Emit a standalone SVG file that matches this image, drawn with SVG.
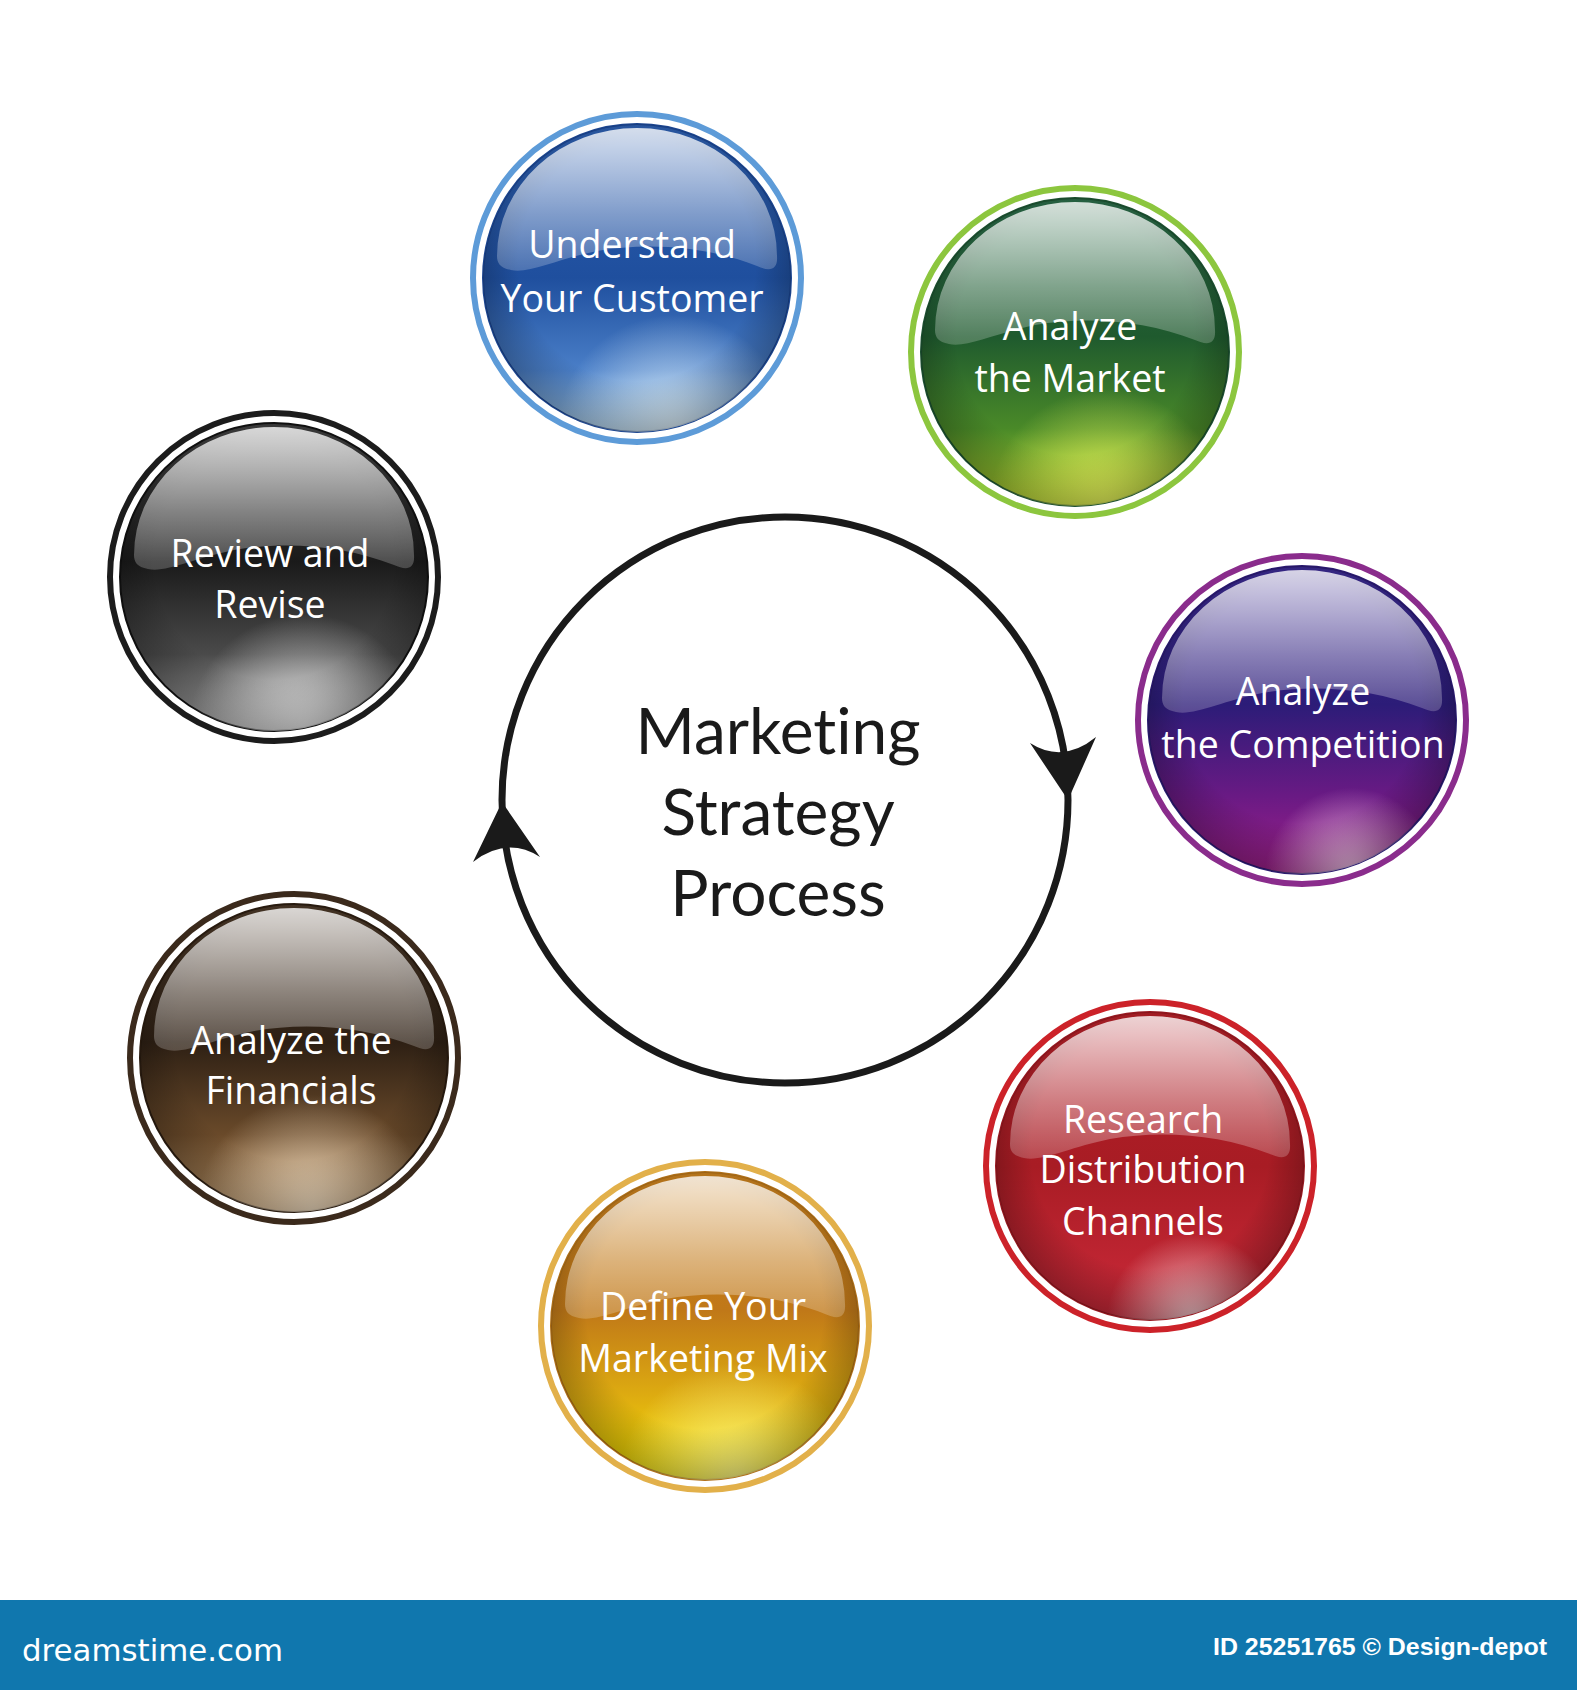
<svg xmlns="http://www.w3.org/2000/svg" width="1577" height="1690" viewBox="0 0 1577 1690">
<style>
.ring{fill:none;stroke-width:6}
.lbl{font-family:"Open Sans","Noto Sans",sans-serif;font-size:37.5px;fill:#ffffff;text-anchor:middle}
.ctr{font-family:Lato,"Open Sans",sans-serif;font-size:64px;fill:#1a1a1a;text-anchor:middle;font-variant-ligatures:none;font-feature-settings:"liga" 0}
.conn{fill:none;stroke:#1a1a1a;stroke-width:7}
.head{fill:#1a1a1a}
</style>
<defs>
<linearGradient id="hl" x1="0" y1="0" x2="0" y2="1">
<stop offset="0" stop-color="#fff" stop-opacity="0.8"/>
<stop offset="0.6" stop-color="#fff" stop-opacity="0.42"/>
<stop offset="1" stop-color="#fff" stop-opacity="0.2"/>
</linearGradient>
<radialGradient id="edge" cx="0.5" cy="0.45" r="0.55">
<stop offset="0.7" stop-color="#000" stop-opacity="0"/>
<stop offset="1" stop-color="#000" stop-opacity="0.3"/>
</radialGradient>
<path id="hlp" d="M -140,-22 A 140 128 0 0 1 140,-22 C 141,-8 133,-6 120,-12 C 70,-32 10,-36 -40,-27 C -80,-19 -108,-4 -126,-8 C -137,-10 -140,-15 -140,-22 Z"/>
<linearGradient id="b-blue" x1="0" y1="0" x2="0" y2="1"><stop offset="0" stop-color="#2d5fb0"/><stop offset="0.5" stop-color="#1f4f9e"/><stop offset="0.8" stop-color="#4a7fc8"/><stop offset="1" stop-color="#a8d0f0"/></linearGradient>
<radialGradient id="g-blue" cx="0.62" cy="1" r="0.38"><stop offset="0" stop-color="#e4f4fc" stop-opacity="0.9"/><stop offset="1" stop-color="#e4f4fc" stop-opacity="0"/></radialGradient>
<linearGradient id="b-green" x1="0" y1="0" x2="0" y2="1"><stop offset="0" stop-color="#2a6a48"/><stop offset="0.45" stop-color="#1f5a2e"/><stop offset="0.75" stop-color="#4a8a28"/><stop offset="1" stop-color="#b8d830"/></linearGradient>
<radialGradient id="g-green" cx="0.6" cy="1" r="0.38"><stop offset="0" stop-color="#eefa60" stop-opacity="0.9"/><stop offset="1" stop-color="#eefa60" stop-opacity="0"/></radialGradient>
<linearGradient id="b-purple" x1="0" y1="0" x2="0" y2="1"><stop offset="0" stop-color="#3a2a90"/><stop offset="0.45" stop-color="#2c1c78"/><stop offset="0.75" stop-color="#6a1a84"/><stop offset="1" stop-color="#a0208a"/></linearGradient>
<radialGradient id="g-purple" cx="0.66" cy="1" r="0.28"><stop offset="0" stop-color="#f4d0ec" stop-opacity="0.9"/><stop offset="1" stop-color="#f4d0ec" stop-opacity="0"/></radialGradient>
<linearGradient id="b-red" x1="0" y1="0" x2="0" y2="1"><stop offset="0" stop-color="#b42028"/><stop offset="0.5" stop-color="#a81c24"/><stop offset="1" stop-color="#cc2a3a"/></linearGradient>
<radialGradient id="g-red" cx="0.64" cy="1" r="0.28"><stop offset="0" stop-color="#f8d8dc" stop-opacity="0.9"/><stop offset="1" stop-color="#f8d8dc" stop-opacity="0"/></radialGradient>
<linearGradient id="b-yellow" x1="0" y1="0" x2="0" y2="1"><stop offset="0" stop-color="#c8801e"/><stop offset="0.45" stop-color="#c07818"/><stop offset="0.75" stop-color="#e0b010"/><stop offset="1" stop-color="#f8e800"/></linearGradient>
<radialGradient id="g-yellow" cx="0.6" cy="1" r="0.38"><stop offset="0" stop-color="#fffa90" stop-opacity="0.9"/><stop offset="1" stop-color="#fffa90" stop-opacity="0"/></radialGradient>
<linearGradient id="b-brown" x1="0" y1="0" x2="0" y2="1"><stop offset="0" stop-color="#4a3828"/><stop offset="0.45" stop-color="#2e2014"/><stop offset="0.75" stop-color="#6a4a2a"/><stop offset="1" stop-color="#c8a070"/></linearGradient>
<radialGradient id="g-brown" cx="0.56" cy="1" r="0.38"><stop offset="0" stop-color="#f4e2c8" stop-opacity="0.9"/><stop offset="1" stop-color="#f4e2c8" stop-opacity="0"/></radialGradient>
<linearGradient id="b-black" x1="0" y1="0" x2="0" y2="1"><stop offset="0" stop-color="#404040"/><stop offset="0.45" stop-color="#1a1a1a"/><stop offset="0.75" stop-color="#4a4a4a"/><stop offset="1" stop-color="#b8b8b8"/></linearGradient>
<radialGradient id="g-black" cx="0.6" cy="1" r="0.38"><stop offset="0" stop-color="#ececec" stop-opacity="0.9"/><stop offset="1" stop-color="#ececec" stop-opacity="0"/></radialGradient>
</defs>
<rect x="0" y="0" width="1577" height="1690" fill="#ffffff"/>

<g id="connectors">
<circle class="conn" cx="785" cy="800" r="283"/>
<path class="head" d="M 1068,800 L 1030,743 Q 1063,764 1096,737 Z"/>
<path class="head" d="M 502,802 L 540,857 Q 507,836 473,862 Z"/>
</g>

<g id="center">
<text class="ctr" x="778" y="754">Marketing</text>
<text class="ctr" x="778" y="835">Strategy</text>
<text class="ctr" x="778" y="916">Process</text>
</g>

<g id="understand" transform="translate(637,278)">
<circle class="ring" r="164" stroke="#5d9bd8"/>
<circle r="154" fill="url(#b-blue)" stroke="#1b4590" stroke-width="2"/>
<circle r="154" fill="url(#g-blue)"/>
<circle r="154" fill="url(#edge)"/>
<use href="#hlp" fill="url(#hl)"/>
<text class="lbl" x="-5" y="-20">Understand</text>
<text class="lbl" x="-5" y="34">Your Customer</text>
</g>

<g id="market" transform="translate(1075,352)">
<circle class="ring" r="164" stroke="#8cc63e"/>
<circle r="154" fill="url(#b-green)" stroke="#1c5030" stroke-width="2"/>
<circle r="154" fill="url(#g-green)"/>
<circle r="154" fill="url(#edge)"/>
<use href="#hlp" fill="url(#hl)"/>
<text class="lbl" x="-5" y="-12">Analyze</text>
<text class="lbl" x="-5" y="40">the Market</text>
</g>

<g id="competition" transform="translate(1302,720)">
<circle class="ring" r="164" stroke="#8a2c8c"/>
<circle r="154" fill="url(#b-purple)" stroke="#2a1a70" stroke-width="2"/>
<circle r="154" fill="url(#g-purple)"/>
<circle r="154" fill="url(#edge)"/>
<use href="#hlp" fill="url(#hl)"/>
<text class="lbl" x="1" y="-15">Analyze</text>
<text class="lbl" x="1" y="38">the Competition</text>
</g>

<g id="distribution" transform="translate(1150,1166)">
<circle class="ring" r="164" stroke="#cc2229"/>
<circle r="154" fill="url(#b-red)" stroke="#981820" stroke-width="2"/>
<circle r="154" fill="url(#g-red)"/>
<circle r="154" fill="url(#edge)"/>
<use href="#hlp" fill="url(#hl)"/>
<text class="lbl" x="-7" y="-33">Research</text>
<text class="lbl" x="-7" y="17">Distribution</text>
<text class="lbl" x="-7" y="69">Channels</text>
</g>

<g id="mix" transform="translate(705,1326)">
<circle class="ring" r="164" stroke="#e2b04a"/>
<circle r="154" fill="url(#b-yellow)" stroke="#b07018" stroke-width="2"/>
<circle r="154" fill="url(#g-yellow)"/>
<circle r="154" fill="url(#edge)"/>
<use href="#hlp" fill="url(#hl)"/>
<text class="lbl" x="-2" y="-6">Define Your</text>
<text class="lbl" x="-2" y="46">Marketing Mix</text>
</g>

<g id="financials" transform="translate(294,1058)">
<circle class="ring" r="164" stroke="#3b2a1c"/>
<circle r="154" fill="url(#b-brown)" stroke="#2a1c10" stroke-width="2"/>
<circle r="154" fill="url(#g-brown)"/>
<circle r="154" fill="url(#edge)"/>
<use href="#hlp" fill="url(#hl)"/>
<text class="lbl" x="-3" y="-4">Analyze the</text>
<text class="lbl" x="-3" y="46">Financials</text>
</g>

<g id="review" transform="translate(274,577)">
<circle class="ring" r="164" stroke="#1c1c1c"/>
<circle r="154" fill="url(#b-black)" stroke="#111" stroke-width="2"/>
<circle r="154" fill="url(#g-black)"/>
<circle r="154" fill="url(#edge)"/>
<use href="#hlp" fill="url(#hl)"/>
<text class="lbl" x="-4" y="-10">Review and</text>
<text class="lbl" x="-4" y="41">Revise</text>
</g>

<g id="footer">
<rect x="0" y="1600" width="1577" height="90" fill="#1077ae"/>
<text x="22" y="1661" font-family="'DejaVu Sans',sans-serif" font-size="30" fill="#ffffff" textLength="261" lengthAdjust="spacingAndGlyphs">dreamstime.com</text>
<text x="1547" y="1655" font-family="'Liberation Sans',Arial,sans-serif" font-weight="bold" font-size="24" fill="#ffffff" text-anchor="end" textLength="334" lengthAdjust="spacingAndGlyphs">ID 25251765 © Design-depot</text>
</g>
</svg>
